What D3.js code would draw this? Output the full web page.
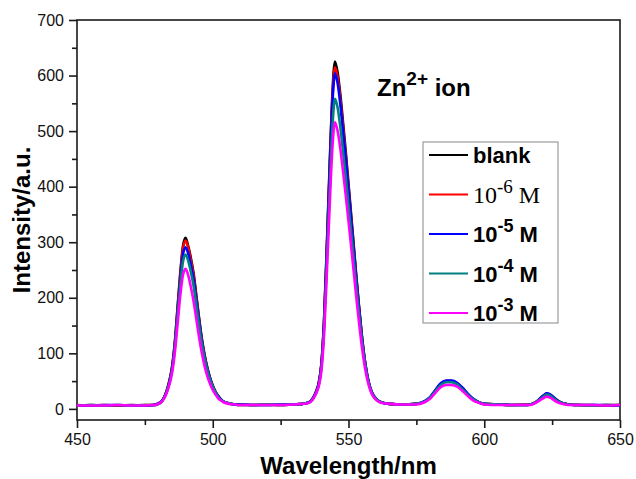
<!DOCTYPE html>
<html>
<head>
<meta charset="utf-8">
<script src="https://cdn.jsdelivr.net/npm/d3@7"></script>
<style>
  body { margin: 0; background: #fff; }
  svg { display: block; }
</style>
</head>
<body>
<svg id="chart" width="636" height="479"></svg>
<script>
// Wavelength grid (nm), shared by all spectra
const wavelength = [450, 455, 460, 465, 470, 475, 478,
  479, 480, 481, 482, 483, 484, 485, 486, 487, 488, 489, 490, 491, 492, 493, 494, 495, 496,
  497, 498, 499, 500, 501, 502, 503, 504,
  506, 508, 510, 515, 520, 525, 530, 533,
  535, 536, 537, 538, 539, 540, 541, 542, 543, 544, 545, 546, 547, 548, 549, 550, 551, 552,
  553, 554, 555, 556, 557, 558, 559, 560,
  562, 565, 570, 575, 578,
  580, 582, 584, 586, 588, 590, 592, 594, 596, 598, 600,
  605, 610, 615, 617, 619, 621, 622, 623, 624, 625, 627, 629, 631, 635, 640, 645, 650];

const blank = [6, 7, 6, 6, 7, 6, 7,
  7, 9, 12, 20, 32, 50, 75, 118, 180, 242, 292, 308, 292, 270, 242, 202, 162, 126,
  97, 74, 56, 42, 31, 23, 17, 13,
  10, 8, 8, 7, 7, 7, 8, 9,
  11, 14, 20, 30, 46, 80, 160, 290, 430, 560, 625, 605, 565, 515, 462, 405, 348, 290,
  232, 178, 128, 88, 58, 38, 26, 19,
  12, 9, 8, 9, 13,
  20, 33, 45, 50, 50, 46, 37, 26, 17, 12, 9,
  8, 7, 7, 8, 12, 20, 24, 27, 26, 23, 15, 10, 8, 7, 7, 6, 7];

const conc1e6 = [7, 6, 7, 6, 6, 7, 7,
  8, 10, 13, 20, 32, 49, 74, 116, 177, 238, 287, 303, 290, 266, 238, 199, 160, 124,
  96, 73, 55, 41, 30, 23, 17, 13,
  10, 8, 7, 7, 8, 7, 8, 9,
  11, 14, 20, 30, 45, 79, 157, 285, 423, 551, 615, 597, 557, 507, 455, 399, 343, 286,
  229, 176, 127, 87, 57, 38, 26, 19,
  12, 9, 8, 9, 13,
  20, 33, 45, 50, 49, 45, 36, 26, 17, 12, 9,
  8, 7, 8, 8, 12, 20, 24, 27, 26, 22, 15, 10, 8, 7, 6, 7, 7];

const conc1e5 = [6, 6, 7, 7, 6, 6, 7,
  8, 10, 13, 20, 31, 48, 72, 113, 171, 230, 277, 291, 279, 257, 231, 194, 157, 122,
  94, 72, 55, 41, 30, 23, 17, 13,
  10, 8, 8, 7, 7, 8, 8, 9,
  11, 14, 20, 30, 45, 78, 155, 281, 416, 542, 604, 586, 548, 499, 449, 394, 339, 283,
  227, 175, 127, 87, 58, 38, 26, 19,
  12, 9, 8, 9, 14,
  21, 34, 46, 51, 51, 47, 38, 27, 18, 12, 9,
  8, 7, 7, 8, 12, 21, 25, 28, 27, 23, 15, 10, 8, 7, 7, 7, 6];

const conc1e4 = [6, 7, 6, 7, 6, 7, 7,
  7, 9, 12, 19, 30, 46, 69, 108, 164, 220, 264, 278, 266, 245, 220, 185, 150, 117,
  91, 70, 53, 40, 30, 22, 16, 13,
  10, 8, 7, 7, 8, 7, 8, 9,
  11, 13, 19, 28, 42, 73, 145, 262, 386, 500, 558, 542, 507, 463, 417, 367, 317, 266,
  214, 166, 121, 84, 56, 37, 25, 19,
  12, 9, 8, 9, 13,
  20, 32, 43, 48, 48, 44, 35, 25, 17, 12, 9,
  8, 7, 7, 8, 12, 19, 23, 26, 25, 21, 14, 10, 8, 7, 6, 7, 7];

const conc1e3 = [6, 6, 6, 7, 6, 6, 7,
  7, 9, 12, 18, 28, 43, 64, 100, 150, 202, 240, 252, 240, 218, 192, 160, 128, 100,
  77, 59, 45, 34, 26, 19, 15, 12,
  9, 8, 7, 7, 7, 7, 8, 9,
  10, 13, 18, 27, 40, 68, 134, 242, 358, 464, 516, 500, 468, 427, 384, 338, 291, 243,
  195, 150, 109, 76, 51, 34, 23, 17,
  11, 9, 8, 8, 12,
  18, 29, 39, 43, 43, 40, 32, 23, 15, 11, 8,
  7, 7, 7, 7, 11, 17, 20, 22, 21, 18, 12, 9, 7, 7, 7, 6, 7];

const seriesNames = ['blank', '10^-6 M', '10^-5 M', '10^-4 M', '10^-3 M'];
const seriesColors = ['#000000', '#ff0000', '#0000ff', '#008080', '#ff00ff'];
const seriesValues = [blank, conc1e6, conc1e5, conc1e4, conc1e3];

const xTicks = [450, 500, 550, 600, 650];
const xMinorTicks = [475, 525, 575, 625];
const yTicks = [0, 100, 200, 300, 400, 500, 600, 700];
const yMinorTicks = [50, 150, 250, 350, 450, 550, 650];

function drawChart() {
  const svg = d3.select('#chart');
  const margin = {top: 20, right: 16, bottom: 59, left: 77};
  const width = 636;
  const height = 479;

  const x = d3.scaleLinear()
      .domain([450, 650])
      .range([margin.left, width - margin.right]);
  const y = d3.scaleLinear()
      .domain([-20, 700])
      .range([height - margin.bottom, margin.top]);

  const axisColor = '#1a1a1a';

  // x axis with minor ticks
  svg.append('g')
      .attr('transform', `translate(0,${y(-20)})`)
      .call(d3.axisBottom(x).tickValues(xTicks).tickSize(8).tickPadding(6)
          .tickFormat(d3.format('d')));
  svg.append('g')
      .attr('transform', `translate(0,${y(-20)})`)
      .call(d3.axisBottom(x).tickValues(xMinorTicks).tickSize(5).tickFormat(''));

  // y axis with minor ticks
  svg.append('g')
      .attr('transform', `translate(${x(450)},0)`)
      .call(d3.axisLeft(y).tickValues(yTicks).tickSize(8).tickPadding(5)
          .tickFormat(d3.format('d')));
  svg.append('g')
      .attr('transform', `translate(${x(450)},0)`)
      .call(d3.axisLeft(y).tickValues(yMinorTicks).tickSize(5).tickFormat(''));

  svg.selectAll('.domain').remove();
  svg.selectAll('.tick line').attr('stroke', axisColor).attr('stroke-width', 1.6);
  svg.selectAll('.tick text')
      .attr('fill', '#111')
      .style('font-family', 'Liberation Sans, Arial, sans-serif')
      .style('font-size', '16px');

  // plot frame
  svg.append('rect')
      .attr('x', x(450))
      .attr('y', y(700))
      .attr('width', x(650) - x(450))
      .attr('height', y(-20) - y(700))
      .attr('fill', 'none')
      .attr('stroke', axisColor)
      .attr('stroke-width', 1.6);

  // spectra
  const line = d3.line()
      .x((d) => x(d[0]))
      .y((d) => y(d[1]))
      .curve(d3.curveMonotoneX);

  seriesValues.forEach((vals, i) => {
    const pts = wavelength.map((w, j) => [w, vals[j]]);
    svg.append('path')
        .datum(pts)
        .attr('d', line)
        .attr('fill', 'none')
        .attr('stroke', seriesColors[i])
        .attr('stroke-width', 2.6)
        .attr('stroke-linejoin', 'round');
  });

  // axis titles
  svg.append('text')
      .attr('x', (x(450) + x(650)) / 2)
      .attr('y', 474)
      .attr('text-anchor', 'middle')
      .style('font-family', 'Liberation Sans, Arial, sans-serif')
      .style('font-weight', 'bold')
      .style('font-size', '24px')
      .text('Wavelength/nm');

  svg.append('text')
      .attr('transform', `translate(30,${(y(-20) + y(700)) / 2}) rotate(-90)`)
      .attr('text-anchor', 'middle')
      .style('font-family', 'Liberation Sans, Arial, sans-serif')
      .style('font-weight', 'bold')
      .style('font-size', '24px')
      .text('Intensity/a.u.');

  // Zn2+ ion annotation
  const ann = svg.append('text')
      .attr('x', 377)
      .attr('y', 96)
      .style('font-family', 'Liberation Sans, Arial, sans-serif')
      .style('font-weight', 'bold')
      .style('font-size', '24px');
  ann.append('tspan').text('Zn');
  ann.append('tspan').attr('dy', -11).style('font-size', '19px').text('2+');
  ann.append('tspan').attr('dy', 11).text(' ion');

  // legend
  const legend = svg.append('g');
  legend.append('rect')
      .attr('x', 423)
      .attr('y', 142)
      .attr('width', 135)
      .attr('height', 181)
      .attr('fill', '#fff')
      .attr('stroke', '#888')
      .attr('stroke-width', 1);

  seriesNames.forEach((name, i) => {
    const cy = 155 + i * 39.5;
    legend.append('line')
        .attr('x1', 429).attr('x2', 468)
        .attr('y1', cy).attr('y2', cy)
        .attr('stroke', seriesColors[i])
        .attr('stroke-width', 2);
    const t = legend.append('text')
        .attr('x', 473)
        .attr('y', cy + 8)
        .style('font-family', 'Liberation Sans, Arial, sans-serif')
        .style('font-weight', 'bold')
        .style('font-size', '22px');
    if (name === 'blank') {
      t.text(name);
    } else {
      const parts = name.match(/^10\^(-\d) M$/);
      if (i === 1) {
        t.style('font-family', 'Liberation Serif, Times New Roman, serif')
            .style('font-weight', 'normal')
            .style('font-size', '24px');
      }
      t.append('tspan').text('10');
      t.append('tspan').attr('dy', -10)
          .style('font-size', i === 1 ? '19px' : '18px').text(parts[1]);
      t.append('tspan').attr('dy', 10).text(' M');
    }
  });
}

drawChart();
</script>
</body>
</html>
